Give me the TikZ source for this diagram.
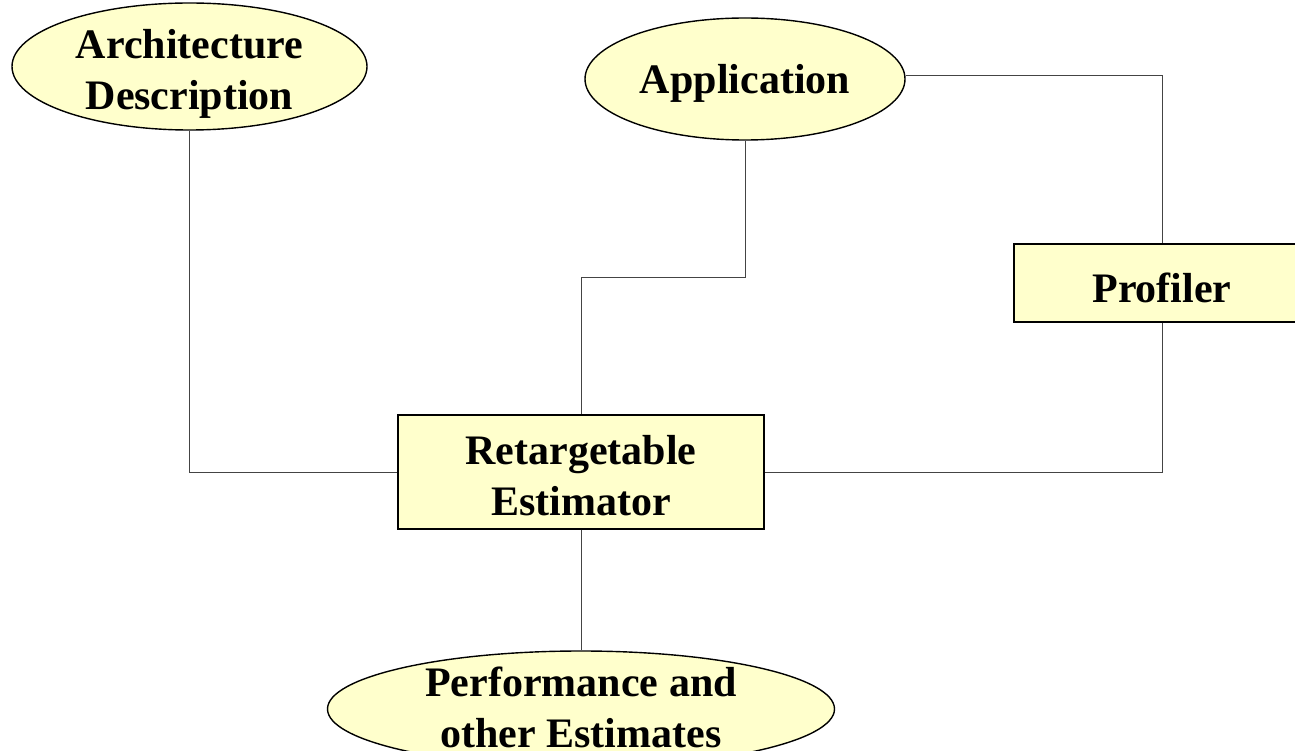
\documentclass[tikz,border=0pt]{standalone}
\usepackage{fontspec}
\setmainfont{Liberation Serif}
\usetikzlibrary{shapes.geometric}
\definecolor{paleyellow}{HTML}{FFFFCC}
\definecolor{wire}{HTML}{444444}
\tikzset{
  ell/.style={ellipse, draw=black, line width=1.4pt, fill=paleyellow, inner sep=0pt},
  box/.style={rectangle, draw=black, line width=1.4pt, fill=paleyellow, inner sep=0pt},
  lbl/.style={font=\bfseries\fontsize{42}{51}\selectfont, align=center, inner sep=0pt},
  conn/.style={draw=wire, line width=0.9pt}
}
\begin{document}
\begin{tikzpicture}[x=1pt,y=-1pt]
\useasboundingbox (0,0) rectangle (1295,751);
\clip (0,0) rectangle (1295,751);

% shapes
\node[ell, minimum width=355pt, minimum height=127pt] (arch) at (189.5,66.5) {};
\node[ell, minimum width=320pt, minimum height=122pt] (app) at (745,79) {};
\node[box, minimum width=296pt, minimum height=78pt] (prof) at (1162,283) {};
\node[box, minimum width=366pt, minimum height=114pt] (est) at (581,472) {};
\node[ell, minimum width=507pt, minimum height=116pt] (perf) at (581,709) {};

% texts
\node[lbl] at (189.5,74) {Architecture\\Description};
\node[lbl] at (745,83) {Application};
\node[lbl] at (1162,288) {Profiler};
\node[lbl] at (581,476) {Retargetable\\Estimator};
\node[lbl] at (581,707) {Performance and\\other Estimates};

% connectors
\coordinate (c1) at (189.5,472);
\coordinate (c2) at (745,277);
\coordinate (c3) at (581,277);
\coordinate (c4) at (1162,75);
\coordinate (c5) at (1162,472);
\draw[conn] (arch.south) -- (c1) -- (est.west);
\draw[conn] (app.south) -- (c2) -- (c3) -- (est.north);
\draw[conn] (app.east |- c4) -- (c4) -- (prof.north);
\draw[conn] (prof.south) -- (c5) -- (est.east);
\draw[conn] (est.south) -- (perf.north);
\end{tikzpicture}
\end{document}
